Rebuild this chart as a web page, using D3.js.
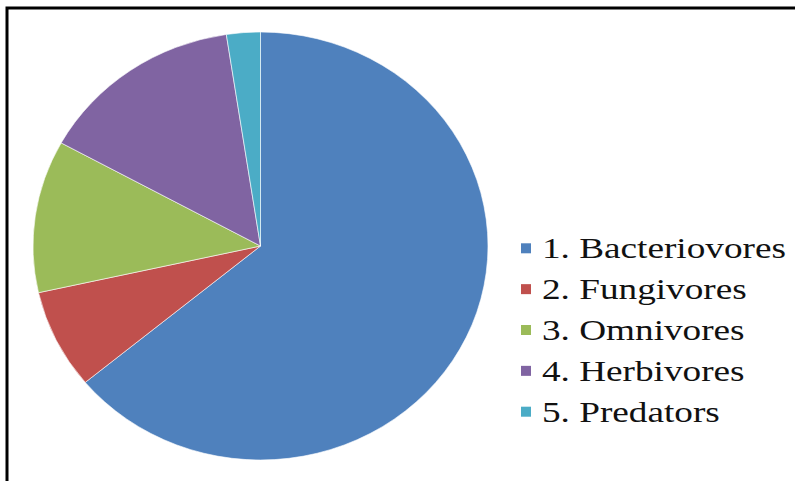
<!DOCTYPE html>
<html>
<head>
<meta charset="utf-8">
<script src="https://cdn.jsdelivr.net/npm/d3@7"></script>
<style>
  html, body { margin: 0; padding: 0; background: #ffffff; }
  svg { display: block; }
  .legend-text { font-family: "Liberation Serif", "Times New Roman", Times, "DejaVu Serif", serif; }
</style>
</head>
<body>
<svg id="chart" width="795" height="481"></svg>
<script>
const categories = ["1. Bacteriovores", "2. Fungivores", "3. Omnivores", "4. Herbivores", "5. Predators"];
const values = [64.0, 7.5, 11.5, 14.6, 2.4];
const colors = ["#4F81BD", "#C0504D", "#9BBB59", "#8064A2", "#4BACC6"];

const svg = d3.select("#chart");
svg.append("rect").attr("x", 0).attr("y", 0).attr("width", 795).attr("height", 481).attr("fill", "#fff");

// frame (only top and left edges visible)
svg.append("rect")
  .attr("x", 7).attr("y", 8).attr("width", 900).attr("height", 600)
  .attr("fill", "none").attr("stroke", "#000").attr("stroke-width", 3);

const data = categories.map((c, i) => ({ name: c, value: values[i], color: colors[i] }));

const pie = d3.pie().value(d => d.value).sort(null);
const ry = 214, sx = 1.063;
const arc = d3.arc().innerRadius(0).outerRadius(ry);

const g = svg.append("g").attr("transform", `translate(260.5,246) scale(${sx},1)`);
g.selectAll("path")
  .data(pie(data))
  .join("path")
  .attr("d", arc)
  .attr("fill", d => d.data.color)
  .attr("stroke", "#ffffff")
  .attr("stroke-opacity", 0.6)
  .attr("stroke-width", 1)
  .attr("vector-effect", "non-scaling-stroke");

// legend
const legendY = d3.scaleLinear().domain([0, categories.length - 1]).range([258.3, 421.7]);
const lg = svg.append("g");
const items = lg.selectAll("g.item")
  .data(data)
  .join("g")
  .attr("class", "item")
  .attr("transform", (d, i) => `translate(0,${legendY(i)})`);

items.append("rect")
  .attr("x", 521).attr("y", -15).attr("width", 10).attr("height", 10)
  .attr("fill", d => d.color);

const texts = items.append("text")
  .attr("class", "legend-text")
  .style("font-size", "30px")
  .attr("fill", "#111")
  .text(d => d.name);

// stretch text horizontally so the first label spans like the reference
let w0 = 0;
try { w0 = texts.node().getComputedTextLength(); } catch (e) { w0 = 0; }
const k = w0 > 0 ? Math.min(1.3, Math.max(0.8, 244 / w0)) : 1;
texts.attr("transform", `translate(542,0) scale(${k},1)`);
</script>
</body>
</html>
